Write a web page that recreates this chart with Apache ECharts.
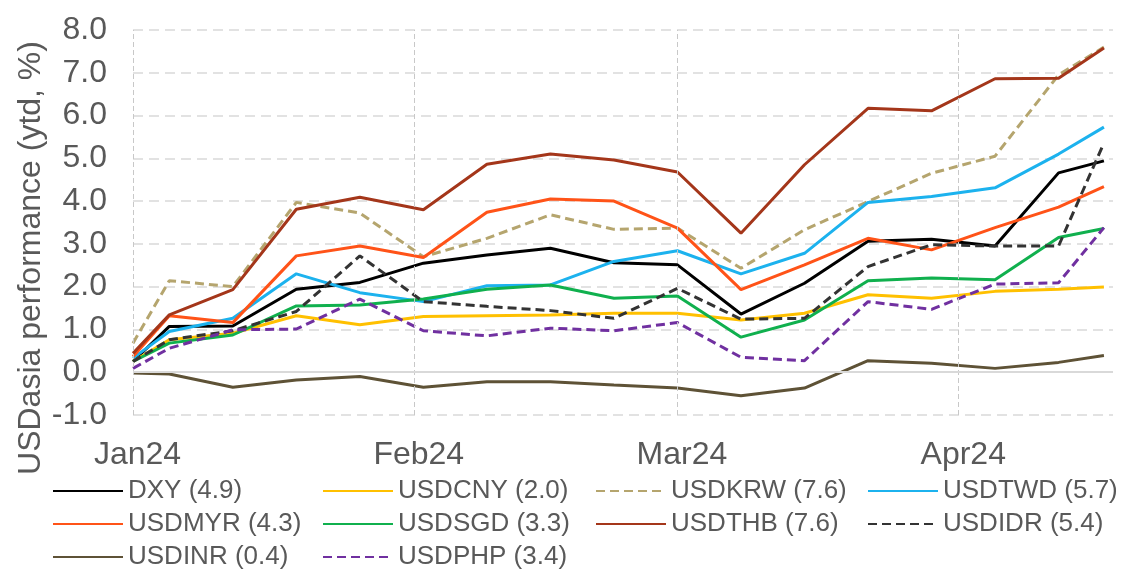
<!DOCTYPE html>
<html>
<head>
  <meta charset="UTF-8">
  <script src="https://cdn.jsdelivr.net/npm/echarts@6.0.0/dist/echarts.min.js"></script>
  <style>
    html, body { margin: 0; padding: 0; background: #fff; }
    #main { width: 1125px; height: 572px; }
  </style>
</head>
<body>
<div id="main"></div>
<script type="text/javascript">
  // weekly observations, ytd % change
  var dates = ['2024-01-01', '2024-01-05', '2024-01-12', '2024-01-19', '2024-01-26', '2024-02-02',
               '2024-02-09', '2024-02-16', '2024-02-23', '2024-03-01', '2024-03-08', '2024-03-15',
               '2024-03-22', '2024-03-29', '2024-04-05', '2024-04-12', '2024-04-17'];
  var monthStarts = ['2024-01-01', '2024-02-01', '2024-03-01', '2024-04-01'];
  var monthNames = ['Jan24', 'Feb24', 'Mar24', 'Apr24'];

  var dxy = [0.25, 1.07, 1.08, 1.94, 2.10, 2.55, 2.74, 2.90, 2.56, 2.51, 1.36, 2.08, 3.06, 3.11, 2.95, 4.66, 4.94];
  var cny = [0.25, 0.76, 0.91, 1.32, 1.11, 1.30, 1.32, 1.34, 1.38, 1.38, 1.22, 1.38, 1.81, 1.73, 1.89, 1.94, 1.99];
  var krw = [0.68, 2.14, 2.00, 3.97, 3.72, 2.70, 3.13, 3.68, 3.34, 3.37, 2.43, 3.33, 3.99, 4.65, 5.05, 6.95, 7.60];
  var twd = [0.33, 0.95, 1.26, 2.30, 1.86, 1.65, 2.02, 2.04, 2.59, 2.84, 2.30, 2.78, 3.97, 4.11, 4.31, 5.10, 5.73];
  var myr = [0.37, 1.32, 1.16, 2.72, 2.95, 2.68, 3.74, 4.05, 4.00, 3.37, 1.93, 2.51, 3.13, 2.86, 3.38, 3.86, 4.34];
  var sgd = [0.25, 0.68, 0.87, 1.55, 1.57, 1.71, 1.94, 2.04, 1.73, 1.78, 0.82, 1.22, 2.14, 2.20, 2.16, 3.15, 3.36];
  var thb = [0.44, 1.34, 1.93, 3.81, 4.09, 3.80, 4.86, 5.10, 4.96, 4.68, 3.25, 4.85, 6.17, 6.11, 6.86, 6.87, 7.58];
  var idr = [0.25, 0.76, 0.97, 1.42, 2.72, 1.65, 1.54, 1.44, 1.26, 1.96, 1.24, 1.26, 2.47, 2.98, 2.95, 2.95, 5.36];
  var inr = [-0.02, -0.04, -0.35, -0.18, -0.10, -0.35, -0.22, -0.22, -0.30, -0.37, -0.55, -0.37, 0.27, 0.21, 0.09, 0.23, 0.39];
  var php = [0.09, 0.56, 0.99, 1.01, 1.71, 0.97, 0.85, 1.03, 0.97, 1.16, 0.35, 0.27, 1.65, 1.47, 2.06, 2.09, 3.38];

  var names = ['DXY (4.9)', 'USDCNY (2.0)', 'USDKRW (7.6)', 'USDTWD (5.7)', 'USDMYR (4.3)',
               'USDSGD (3.3)', 'USDTHB (7.6)', 'USDIDR (5.4)', 'USDINR (0.4)', 'USDPHP (3.4)'];
  var values = [dxy, cny, krw, twd, myr, sgd, thb, idr, inr, php];
  var colors = ['#000000', '#FFC000', '#B5A56E', '#1CB2EE', '#FF5318', '#10B04E', '#A4361A', '#333333', '#5E5236', '#7030A0'];
  var dashed = [false, false, true, false, false, false, false, true, false, true];

  var font = '"Liberation Sans", Arial, sans-serif';
  var grey = '#595959';
  var DAY = 24 * 3600 * 1000;

  var series = [{
    // empty series only carrying the month gridlines and the zero line
    name: 'grid',
    type: 'line',
    data: [],
    silent: true,
    markLine: {
      silent: true,
      symbol: 'none',
      label: { show: false },
      data: monthStarts.map(function (d) {
        return { xAxis: d, lineStyle: { color: '#C8C8C8', width: 1, type: [5, 3] } };
      }).concat([{ yAxis: 0, lineStyle: { color: '#D9D9D9', width: 2, type: 'solid' } }])
    }
  }];
  names.forEach(function (n, i) {
    series.push({
      name: n,
      type: 'line',
      symbol: 'none',
      color: colors[i],
      lineStyle: { width: 3, color: colors[i], type: dashed[i] ? [9, 5] : 'solid' },
      data: dates.map(function (d, j) { return [d, values[i][j]]; })
    });
  });

  function legendCol(left, items) {
    return {
      orient: 'vertical',
      left: left,
      top: 478,
      padding: 0,
      itemWidth: 70,
      itemHeight: 14,
      itemGap: 7,
      itemStyle: { opacity: 0 },
      selectedMode: false,
      textStyle: { fontFamily: font, fontSize: 26, color: grey, lineHeight: 26 },
      data: items
    };
  }

  var chart = echarts.init(document.getElementById('main'));
  chart.setOption({
    animation: false,
    backgroundColor: '#ffffff',
    grid: { left: 133, right: 12, top: 30, bottom: 157 },
    xAxis: {
      type: 'time',
      min: '2024-01-01',
      max: '2024-04-18',
      minInterval: 28 * DAY,
      maxInterval: 31 * DAY,
      axisLine: { show: false },
      axisTick: { show: false },
      splitLine: { show: false },
      axisLabel: {
        showMinLabel: true,
        showMaxLabel: false,
        hideOverlap: false,
        formatter: function (v) {
          var d = new Date(v);
          if (d.getDate() !== 1) return '';
          return monthNames[d.getMonth()] || '';
        },
        fontFamily: font,
        fontSize: 32,
        color: grey,
        padding: [0, 0, 0, 9],
        margin: 24
      }
    },
    yAxis: {
      type: 'value',
      min: -1,
      max: 8,
      interval: 1,
      axisLine: { show: false },
      axisTick: { show: false },
      splitLine: { lineStyle: { color: '#D9D9D9', width: 1.5, type: [10, 6] } },
      axisLabel: {
        formatter: function (v) { return v.toFixed(1); },
        fontFamily: font,
        fontSize: 32,
        color: grey,
        margin: 26
      }
    },
    graphic: [{
      type: 'text',
      x: 31,
      y: 258,
      rotation: Math.PI / 2,
      style: {
        text: 'USDasia performance (ytd, %)',
        font: '32px ' + font,
        fill: grey,
        align: 'center',
        verticalAlign: 'middle'
      }
    }],
    legend: [
      legendCol(52, ['DXY (4.9)', 'USDMYR (4.3)', 'USDINR (0.4)']),
      legendCol(322, ['USDCNY (2.0)', 'USDSGD (3.3)', 'USDPHP (3.4)']),
      legendCol(595, ['USDKRW (7.6)', 'USDTHB (7.6)']),
      legendCol(867, ['USDTWD (5.7)', 'USDIDR (5.4)'])
    ],
    series: series
  });
</script>
</body>
</html>
